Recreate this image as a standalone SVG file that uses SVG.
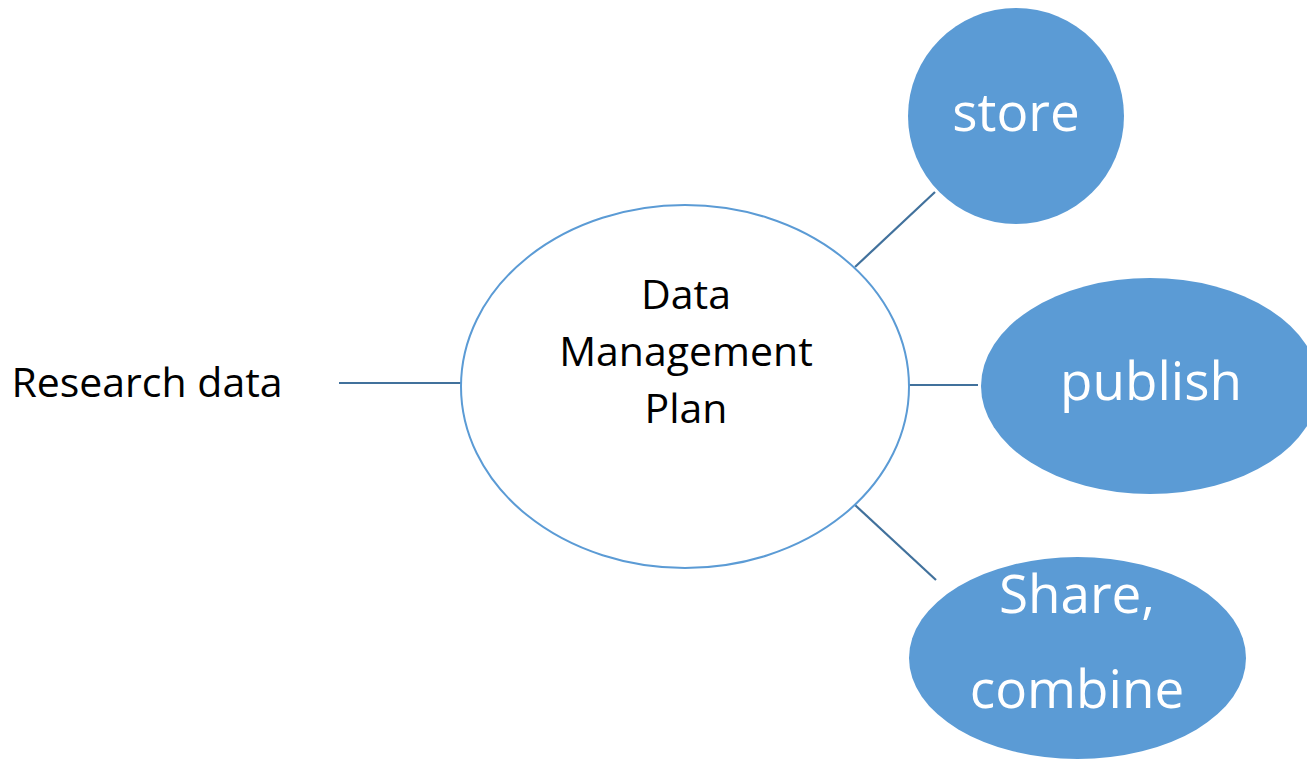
<svg xmlns="http://www.w3.org/2000/svg" width="1307" height="759" viewBox="0 0 1307 759">
<style>
.conn{stroke:#41719C;stroke-width:2.2;fill:none}
.bubble{fill:#5B9BD5;stroke:none}
.lbl{font-family:"Open Sans","Liberation Sans",sans-serif;text-anchor:middle}
.w{fill:#ffffff;font-size:53px}
.k{fill:#000000;font-size:41px}
</style>
<rect width="1307" height="759" fill="#ffffff"/>
<g id="connectors">
<line class="conn" x1="339" y1="383" x2="466" y2="383"/>
<line class="conn" x1="855" y1="267" x2="935" y2="192"/>
<line class="conn" x1="907" y1="385" x2="978" y2="385"/>
<line class="conn" x1="855" y1="505" x2="936" y2="580"/>
</g>
<g id="research-data">
<text class="lbl k" x="147" y="397">Research data</text>
</g>
<g id="dmp">
<ellipse cx="685" cy="386.5" rx="224" ry="181.5" fill="#ffffff" stroke="#5B9BD5" stroke-width="2"/>
<text class="lbl k" x="686" y="309">Data</text>
<text class="lbl k" x="686" y="366">Management</text>
<text class="lbl k" x="686" y="423">Plan</text>
</g>
<g id="store">
<circle class="bubble" cx="1016" cy="116" r="108"/>
<text class="lbl w" x="1016" y="131">store</text>
</g>
<g id="publish">
<ellipse class="bubble" cx="1150" cy="386" rx="169" ry="108"/>
<text class="lbl w" x="1151" y="400">publish</text>
</g>
<g id="share">
<ellipse class="bubble" cx="1077.5" cy="658" rx="168.5" ry="101"/>
<text class="lbl w" x="1077" y="613">Share,</text>
<text class="lbl w" x="1077" y="708">combine</text>
</g>
</svg>
